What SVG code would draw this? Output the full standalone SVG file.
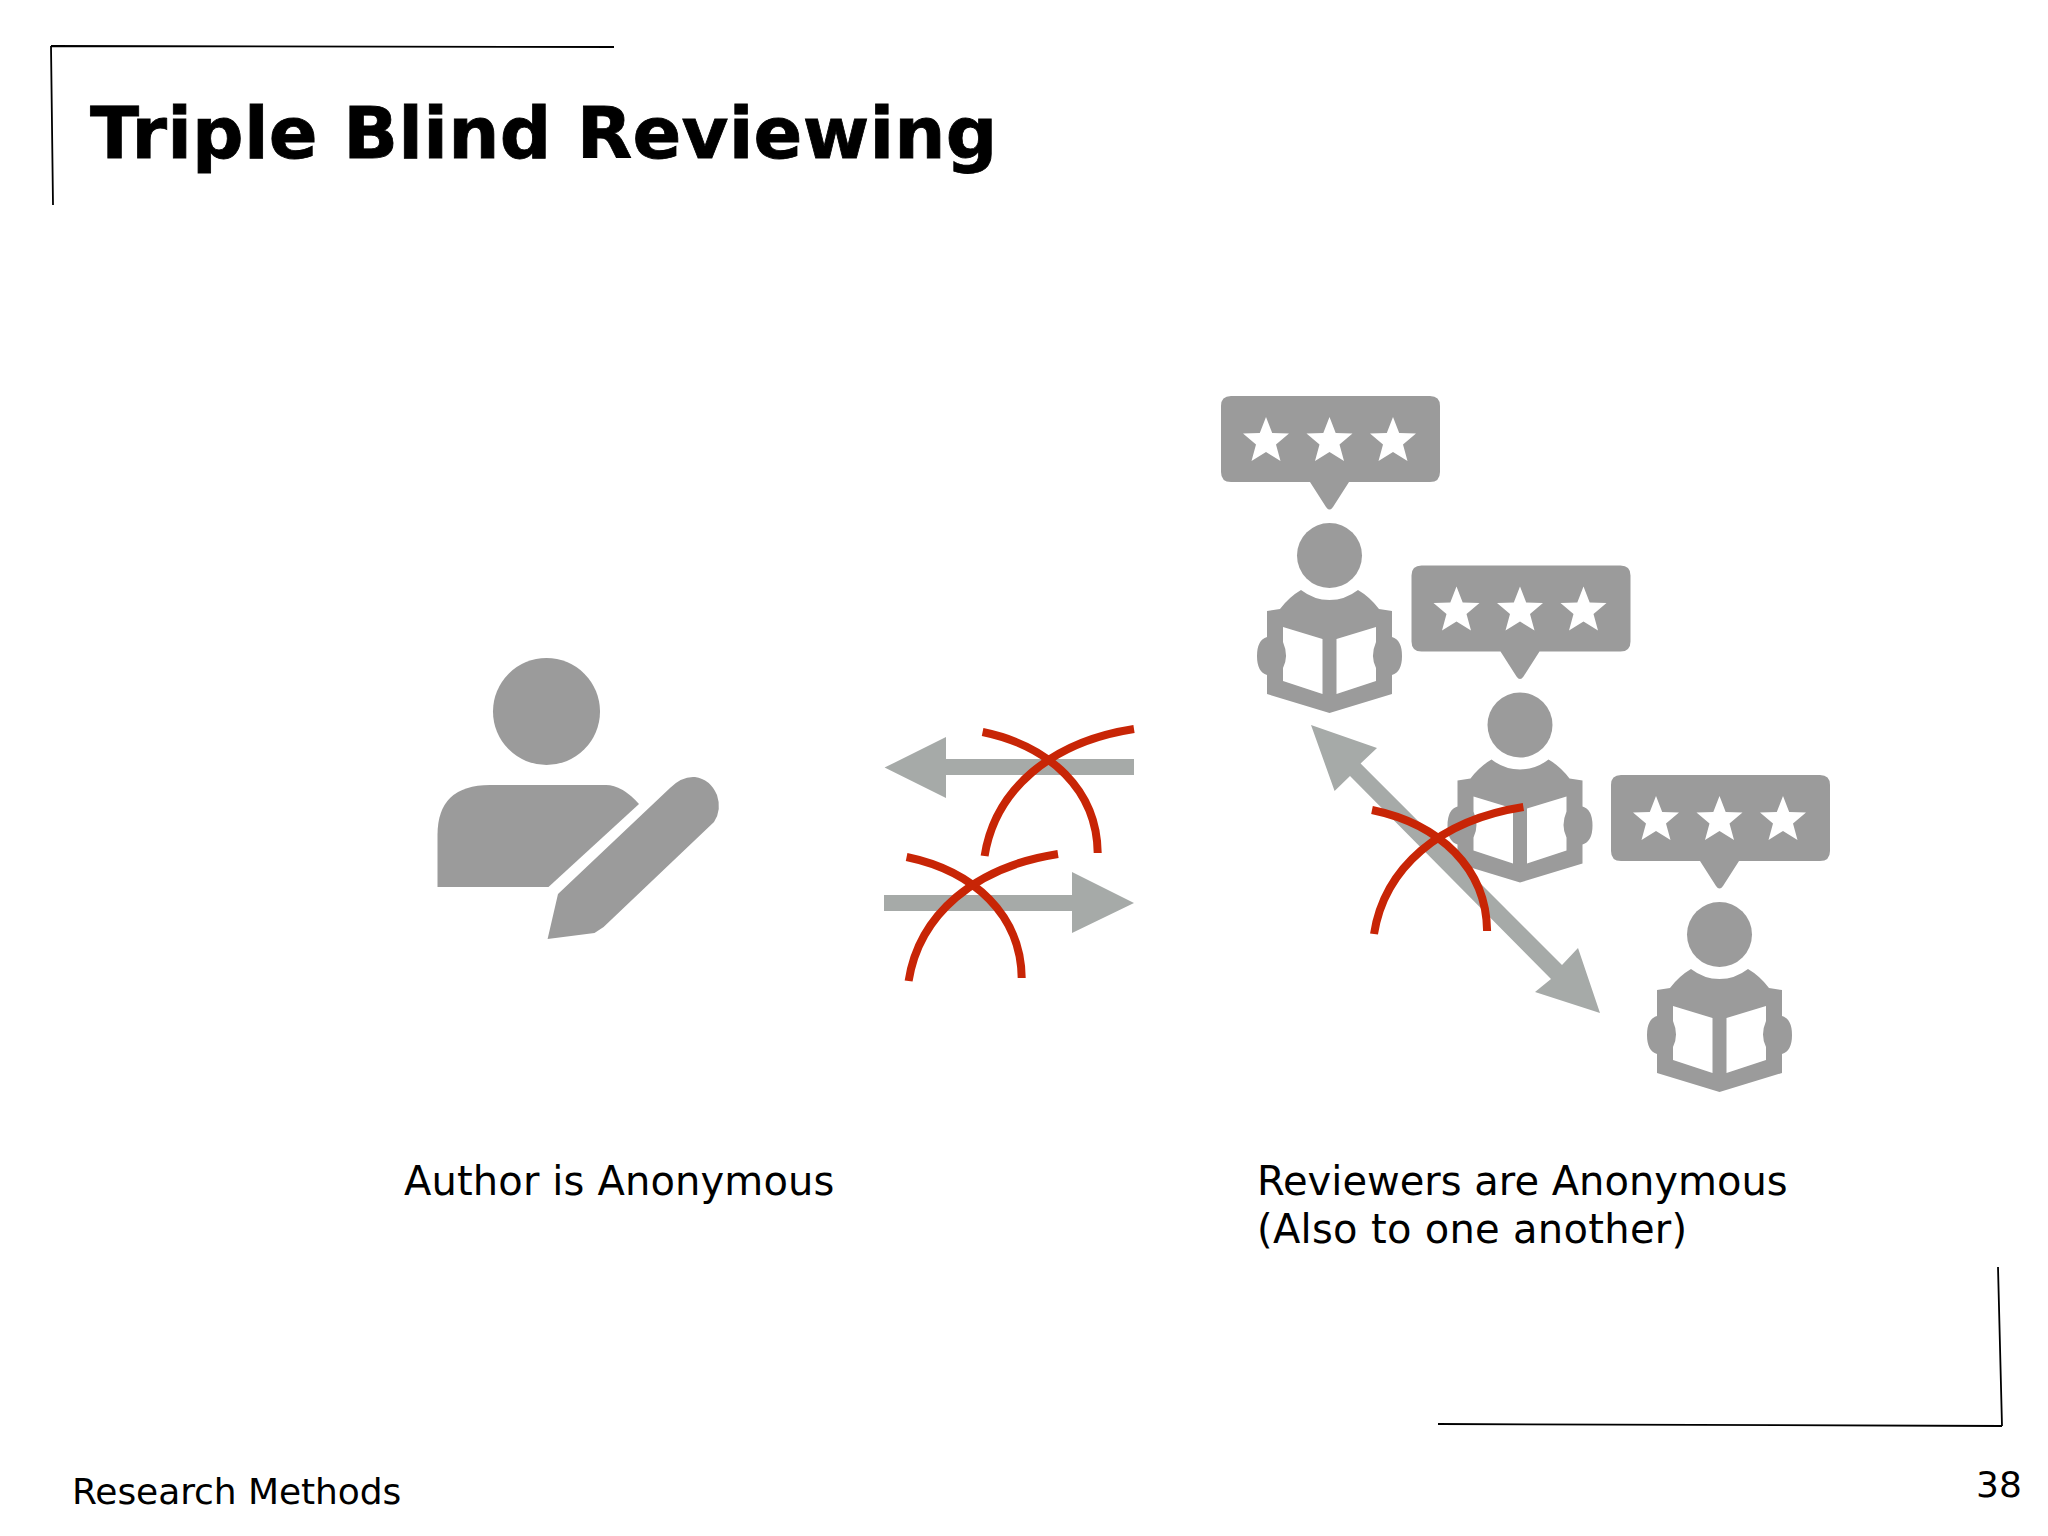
<svg xmlns="http://www.w3.org/2000/svg" xmlns:xlink="http://www.w3.org/1999/xlink" width="2048" height="1536" viewBox="0 0 2048 1536">
<style>
.t{font-family:"DejaVu Sans",Verdana,sans-serif;fill:#000}
.b{font-size:40px}
.f{font-size:36px}
.ic{fill:#9b9b9b}
.ar{fill:#a6aaa8}
.x{fill:none;stroke:#c82506;stroke-width:8}
.fr{fill:none;stroke:#000;stroke-width:1.8}
</style>
<defs>
<polygon id="star" fill="#fff" points="0,-24 6.2,-8 23,-7.5 10,3.5 14.5,20 0,11 -14.5,20 -10,3.5 -23,-7.5 -6.2,-8"/>
<g id="reviewer">
<path class="ic" d="M1231,396H1430Q1440,396 1440,406V472Q1440,482 1430,482H1349L1333,507Q1329.5,512 1326,507L1310,482H1231Q1221,482 1221,472V406Q1221,396 1231,396Z"/>
<use xlink:href="#star" href="#star" x="1266" y="441"/>
<use xlink:href="#star" href="#star" x="1329.5" y="441"/>
<use xlink:href="#star" href="#star" x="1393" y="441"/>
<circle class="ic" cx="1329.5" cy="555.5" r="32.5"/>
<path class="ic" d="M1301,590Q1314,600 1329.5,600Q1345,600 1358,590Q1370,597 1379,609L1392,611V637Q1402,640 1402,656Q1402,672 1392,675V694L1329.5,713L1267,694V675Q1257,672 1257,656Q1257,640 1267,637V611L1280,609Q1289,597 1301,590Z"/>
<path fill="#fff" d="M1283,627L1322.5,639V694L1283,681V668Q1289,656 1283,642Z"/>
<path fill="#fff" d="M1376,627L1336.5,639V694L1376,681V668Q1370,656 1376,642Z"/>
</g>
<g id="cross">
<path d="M982.6,732C1050,746 1097,790 1097.7,853"/>
<path d="M1134,729C1050,742 995,790 984.6,856"/>
</g>
</defs>
<rect width="2048" height="1536" fill="#fff"/>
<g id="frame">
<path class="fr" d="M51,46L614,47M51,46L53,205M1998,1267L2002,1426M1438,1424L2002,1426"/>
</g>
<text id="title" class="t" x="90" y="158" font-size="72" font-weight="700" letter-spacing="0.24" stroke="#000" stroke-width="0.8">Triple Blind Reviewing</text>
<g id="author">
<circle class="ic" cx="546.5" cy="711.5" r="53.5"/>
<path class="ic" d="M437.5,887V835Q437.5,785 490,785H606Q622,785 639,804L548.5,887Z"/>
<path class="ic" d="M670,788Q682,776 695,777Q710,779 717,795Q722,810 714,822L603.6,927L594.5,933L547.6,939L558,894Z"/>
</g>
<g id="reviewer-1"><use xlink:href="#reviewer" href="#reviewer"/></g>
<g id="reviewer-2"><use xlink:href="#reviewer" href="#reviewer" x="190.5" y="169.5"/></g>
<g id="reviewer-3"><use xlink:href="#reviewer" href="#reviewer" x="390" y="379"/></g>
<g id="connectors">
<polygon class="ar" points="884.6,767.6 946,737 946,759 1134,759 1134,775 946,775 946,798"/>
<polygon class="ar" points="1134,903 1072,872 1072,895 884,895 884,911 1072,911 1072,933"/>
<polygon class="ar" points="1311,725 1377,748 1360.6,763.6 1562,965 1578,948 1600,1013 1535,992 1551,979 1350,776 1334.6,791"/>
<use class="x" xlink:href="#cross" href="#cross"/>
<use class="x" xlink:href="#cross" href="#cross" x="-76" y="125"/>
<use class="x" xlink:href="#cross" href="#cross" x="389.4" y="78"/>
</g>
<g id="labels">
<text class="t b" x="404" y="1195" letter-spacing="0.14">Author is Anonymous</text>
<text class="t b" x="1257" y="1195">Reviewers are Anonymous</text>
<text class="t b" x="1257" y="1243" letter-spacing="0.3">(Also to one another)</text>
<text class="t f" x="72" y="1504" letter-spacing="-0.07">Research Methods</text>
<text class="t f" x="1976" y="1497">38</text>
</g>
</svg>
